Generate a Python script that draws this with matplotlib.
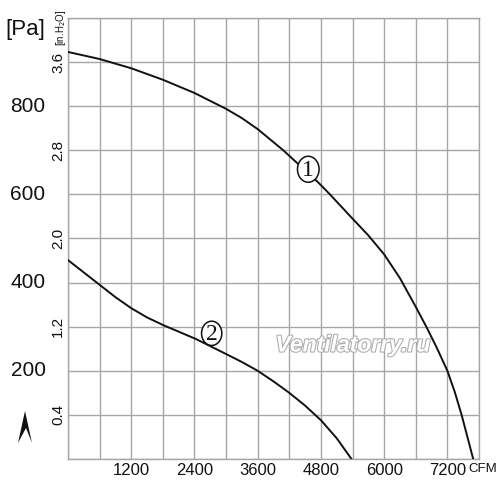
import matplotlib
matplotlib.use("Agg")
import matplotlib.pyplot as plt
import matplotlib.patheffects as pe
from matplotlib.patches import Ellipse, Polygon
import numpy as np

# --- data ---
curve1_cfm = [0, 600, 1200, 1800, 2400, 3000, 3300, 3600, 4086, 4750, 4971,
              5400, 5700, 6000, 6300, 6600, 6800, 7000, 7200, 7340, 7470, 7690]
curve1_pa = [923, 907, 886, 860, 830, 794, 773, 748, 700, 627, 600,
             545, 507, 464, 410, 345, 300, 252, 200, 152, 100, 0]

curve2_cfm = [0, 600, 900, 1200, 1500, 1800, 2430, 3000, 3300, 3600, 3900,
              4200, 4500, 4800, 5100, 5380]
curve2_pa = [451, 395, 367, 342, 321, 304, 272, 238, 220, 200, 176,
             150, 121, 88, 47, 0]

x_ticks = [1200, 2400, 3600, 4800, 6000, 7200]
pa_ticks = [200, 400, 600, 800]
inh2o_ticks = [0.4, 1.2, 2.0, 2.8, 3.6]
PA_PER_INH2O = 250

labels = ["1", "2"]
label_pos = [(4560, 657), (2727, 285)]

font = ["Liberation Sans", "DejaVu Sans"]
grid_col = "#a6a6a6"
ink = "#111111"

W, H = 500, 494
fig = plt.figure(figsize=(W / 100, H / 100), dpi=100)
fig.patch.set_facecolor("white")
ax = fig.add_axes([68 / W, 1 - 459 / H, 411 / W, 441 / H])

ax.set_xlim(0, 7800)
ax.set_ylim(0, 1000)

ax.set_xticks(np.arange(0, 7801, 600), minor=True)
ax.set_yticks(np.arange(0, 1001, 100), minor=True)
ax.set_xticks(x_ticks)
ax.set_xticklabels([str(v) for v in x_ticks], family=font, fontsize=12,
                   color=ink)
ax.set_yticks(pa_ticks)
ax.set_yticklabels([])

ax.grid(which="both", color=grid_col, linewidth=1.0)
ax.set_axisbelow(True)
ax.tick_params(which="both", length=0)
ax.tick_params(axis="x", pad=3)
for s in ax.spines.values():
    s.set_color(grid_col)
    s.set_linewidth(1.0)

# curves
ax.plot(curve1_cfm, curve1_pa, color=ink, lw=1.4, zorder=3)
ax.plot(curve2_cfm, curve2_pa, color=ink, lw=1.4, zorder=3)

# numbered circles
for lab, (cx, cy) in zip(labels, label_pos):
    w = 410 if lab == "1" else 385
    h = 59 if lab == "1" else 55
    ax.add_patch(Ellipse((cx, cy), w, h, facecolor="white",
                         edgecolor=ink, lw=1.1, zorder=4))
    ax.text(cx, cy - 2, lab, ha="center", va="center", fontsize=17,
            family="Liberation Serif", color=ink, zorder=5)

# Pa labels (left) and in.H2O labels (rotated)
ytr = ax.get_yaxis_transform()
for v in pa_ticks:
    ax.text(-40 / 411, v, str(v), transform=ytr, ha="center",
            va="center", fontsize=15, family=font, color=ink)
for v in inh2o_ticks:
    ax.text(-0.024, v * PA_PER_INH2O, f"{v:.1f}", transform=ytr,
            rotation=90, ha="center", va="center", fontsize=11,
            family=font, color=ink)
ax.text(-0.018, 0.977, "[in.H$_2$O]", transform=ax.transAxes, rotation=90,
        ha="center", va="center", fontsize=7, family=font, color=ink)

# unit labels
fig.text(25 / W, 1 - 30 / H, "[Pa]", ha="center", va="center", fontsize=16,
         family=font, color=ink)
fig.text(468 / W, 1 - 469 / H, "CFM", ha="left", va="center", fontsize=9.5,
         family=font, color=ink)

# arrow mark
arrow = [(25, 411), (32, 443), (26, 428), (18, 443)]
fig.add_artist(Polygon([(x / W, 1 - y / H) for x, y in arrow], closed=True,
                       transform=fig.transFigure, facecolor=ink,
                       edgecolor="none"))

# watermark
ax.text(0.693, 0.2585, "Ventilatorry.ru", transform=ax.transAxes,
        ha="center", va="center", fontsize=16.5, style="italic",
        fontweight="bold", family="Liberation Sans", color="white", zorder=2,
        path_effects=[pe.withStroke(linewidth=1.6, foreground="#b0b0b0")])

fig.savefig("out.png", dpi=100, facecolor="white")
